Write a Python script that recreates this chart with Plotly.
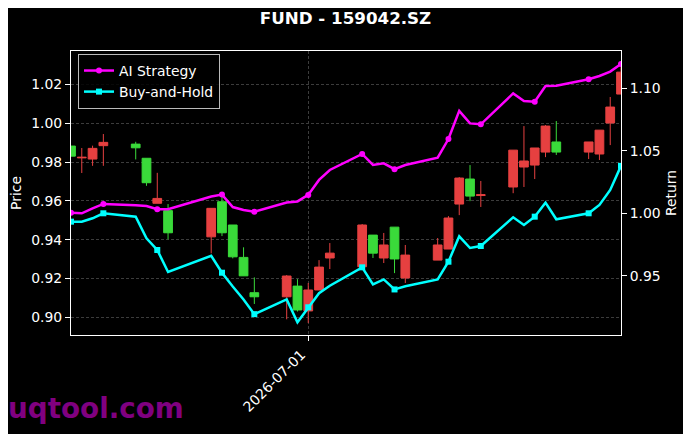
import plotly.graph_objects as go

# ---------------- data ----------------
dates = [
    "2026-06-09", "2026-06-10", "2026-06-11", "2026-06-12",
    "2026-06-15", "2026-06-16", "2026-06-17", "2026-06-18",
    "2026-06-22", "2026-06-23", "2026-06-24", "2026-06-25", "2026-06-26",
    "2026-06-29", "2026-06-30", "2026-07-01", "2026-07-02", "2026-07-03",
    "2026-07-06", "2026-07-07", "2026-07-08", "2026-07-09", "2026-07-10",
    "2026-07-13", "2026-07-14", "2026-07-15", "2026-07-16", "2026-07-17",
    "2026-07-20", "2026-07-21", "2026-07-22", "2026-07-23", "2026-07-24",
    "2026-07-27", "2026-07-28", "2026-07-29", "2026-07-30",
]
opens = [0.9883, 0.9822, 0.9816, 0.9885, 0.9893, 0.9820, 0.9588, 0.9550,
         0.9415, 0.9596, 0.9476, 0.9309, 0.9127, 0.9106, 0.9161, 0.9033,
         0.9141, 0.9306, 0.9261, 0.9424, 0.9306, 0.9465, 0.9203, 0.9295,
         0.9352, 0.9584, 0.9713, 0.9628, 0.9672, 0.9775, 0.9785, 0.9852,
         0.9904, 0.9852, 0.9842, 1.0002, 1.0151]
highs = [0.9883, 0.9873, 0.9885, 0.9945, 0.9905, 0.9820, 0.9745, 0.9584,
         0.9562, 0.9639, 0.9476, 0.9361, 0.9206, 0.9218, 0.9197, 0.9177,
         0.9295, 0.9383, 0.9481, 0.9424, 0.9435, 0.9465, 0.9373, 0.9409,
         0.9522, 0.9723, 0.9785, 0.9703, 0.9862, 0.9986, 0.9873, 0.9991,
         1.0012, 0.9904, 0.9965, 1.0136, 1.0290]
lows = [0.9831, 0.9744, 0.9781, 0.9781, 0.9814, 0.9678, 0.9588, 0.9402,
        0.9330, 0.9419, 0.9304, 0.9214, 0.9069, 0.8990, 0.9030, 0.8971,
        0.9141, 0.9249, 0.9261, 0.9306, 0.9280, 0.9228, 0.9177, 0.9295,
        0.9352, 0.9527, 0.9599, 0.9569, 0.9640, 0.9672, 0.9713, 0.9826,
        0.9837, 0.9816, 0.9811, 0.9888, 1.0151]
closes = [0.9831, 0.9825, 0.9871, 0.9902, 0.9874, 0.9694, 0.9613, 0.9436,
          0.9562, 0.9436, 0.9312, 0.9214, 0.9106, 0.9213, 0.9038, 0.9141,
          0.9259, 0.9331, 0.9476, 0.9331, 0.9373, 0.9301, 0.9321, 0.9373,
          0.9512, 0.9718, 0.9625, 0.9632, 0.9862, 0.9806, 0.9873, 0.9986,
          0.9852, 0.9904, 0.9965, 1.0084, 1.0264]

ai_strategy = [1.0005, 1.0000, 1.0040, 1.0075, 1.0064, 1.0058, 1.0032, 1.0032,
               1.0135, 1.0150, 1.0050, 1.0027, 1.0013, 1.0087, 1.0095, 1.0147,
               1.0267, 1.0347, 1.0475, 1.0387, 1.0400, 1.0353, 1.0387, 1.0446,
               1.0595, 1.0820, 1.0720, 1.0713, 1.0960, 1.0900, 1.0894, 1.1020,
               1.1022, 1.1074, 1.1100, 1.1135, 1.1196]
buy_hold = [0.9933, 0.9933, 0.9960, 1.0000, 0.9973, 0.9800, 0.9706, 0.9530,
            0.9660, 0.9524, 0.9413, 0.9310, 0.9192, 0.9310, 0.9127, 0.9247,
            0.9360, 0.9420, 0.9567, 0.9430, 0.9470, 0.9390, 0.9415, 0.9470,
            0.9612, 0.9815, 0.9722, 0.9738, 0.9968, 0.9906, 0.9973, 1.0085,
            0.9952, 1.0000, 1.0067, 1.0187, 1.0380]

price_ticks = [0.90, 0.92, 0.94, 0.96, 0.98, 1.00, 1.02]
return_ticks = [0.95, 1.00, 1.05, 1.10]
date_ticks = ["2026-07-01"]

# ---------------- styling ----------------
FONT = "DejaVu Sans"
RED = "rgb(230,64,64)"
GREEN = "rgb(58,218,58)"
MAGENTA = "#ff00ff"
CYAN = "#00ffff"
GRID = "#3c3c3c"
MARK_EVERY = 3
OFF = 8  # the page body adds an 8px offset; compensate inside the figure

mark_idx = list(range(0, len(dates), MARK_EVERY))
if mark_idx[-1] != len(dates) - 1:
    mark_idx.append(len(dates) - 1)

fig = go.Figure()

fig.add_trace(go.Candlestick(
    x=dates, open=opens, high=highs, low=lows, close=closes,
    increasing=dict(line=dict(color=RED, width=1), fillcolor=RED),
    decreasing=dict(line=dict(color=GREEN, width=1), fillcolor=GREEN),
    whiskerwidth=0, showlegend=False, hoverinfo="skip", yaxis="y",
))

for name, vals, color, sym in [("AI Strategy", ai_strategy, MAGENTA, "circle"),
                                ("Buy-and-Hold", buy_hold, CYAN, "square")]:
    fig.add_trace(go.Scatter(
        x=dates, y=vals, mode="lines", yaxis="y2",
        line=dict(color=color, width=2.5), showlegend=False,
    ))
    fig.add_trace(go.Scatter(
        x=[dates[i] for i in mark_idx], y=[vals[i] for i in mark_idx],
        mode="markers", yaxis="y2",
        marker=dict(color=color, size=6, symbol=sym), showlegend=False,
    ))
    fig.add_trace(go.Scatter(
        x=[None], y=[None], mode="lines+markers", yaxis="y2", name=name,
        line=dict(color=color, width=2.5),
        marker=dict(color=color, size=6, symbol=sym),
    ))

axis_common = dict(
    ticks="outside", ticklen=5, tickwidth=1, tickcolor="white",
    tickfont=dict(family=FONT, size=13.9, color="white"),
    zeroline=False, automargin=False,
)

fig.update_layout(
    width=691, height=434,
    margin=dict(l=71 - OFF, r=70 + OFF, t=51 - OFF, b=99 + OFF, pad=0,
                autoexpand=False),
    paper_bgcolor="black", plot_bgcolor="black",
    font=dict(family=FONT, color="white", size=13.9),
    boxgap=0.1, boxgroupgap=0.1,
    title=dict(text="<b>FUND - 159042.SZ</b>", x=(345.5 - OFF) / 691,
               xanchor="center", y=1 - (18 - OFF) / 434, yanchor="middle",
               automargin=False,
               font=dict(family=FONT, size=16.7, color="white")),
    xaxis=dict(
        type="date", range=[dates[0], dates[-1]],
        tickvals=date_ticks, ticktext=date_ticks, tickangle=-45,
        ticklabelshift=-7,
        showline=True, linecolor="white", linewidth=1, mirror=True,
        showgrid=True, gridcolor=GRID, gridwidth=0.8, griddash="3px,2px",
        rangeslider=dict(visible=False),
        **axis_common,
    ),
    yaxis=dict(
        range=[0.8909, 1.0373], tickvals=price_ticks, tickformat=".2f",
        showline=True, linecolor="white", linewidth=1, mirror=True,
        showgrid=True, gridcolor=GRID, gridwidth=0.8, griddash="3px,2px",
        title=dict(text="Price", standoff=6,
                   font=dict(family=FONT, size=13.9, color="white")),
        **axis_common,
    ),
    yaxis2=dict(
        overlaying="y", side="right",
        range=[0.9025, 1.130], tickvals=return_ticks, tickformat=".2f",
        showgrid=False, showline=False,
        title=dict(text="Return", standoff=6,
                   font=dict(family=FONT, size=13.9, color="white")),
        **axis_common,
    ),
    legend=dict(
        x=7 / 550, y=1 - 3 / 284, xanchor="left", yanchor="top",
        bgcolor="rgba(0,0,0,0.85)", bordercolor="#bbbbbb", borderwidth=1,
        font=dict(family=FONT, size=13.9, color="white"),
        itemwidth=30, traceorder="normal",
    ),
    annotations=[dict(
        text="<b>uqtool.com</b>", xref="paper", yref="paper",
        x=(6 - 71) / 550, y=(335 - 409) / 284,
        xanchor="left", yanchor="middle", showarrow=False,
        font=dict(family=FONT, size=27.8, color="#800080"),
    )],
)

fig.write_html("out.html")
